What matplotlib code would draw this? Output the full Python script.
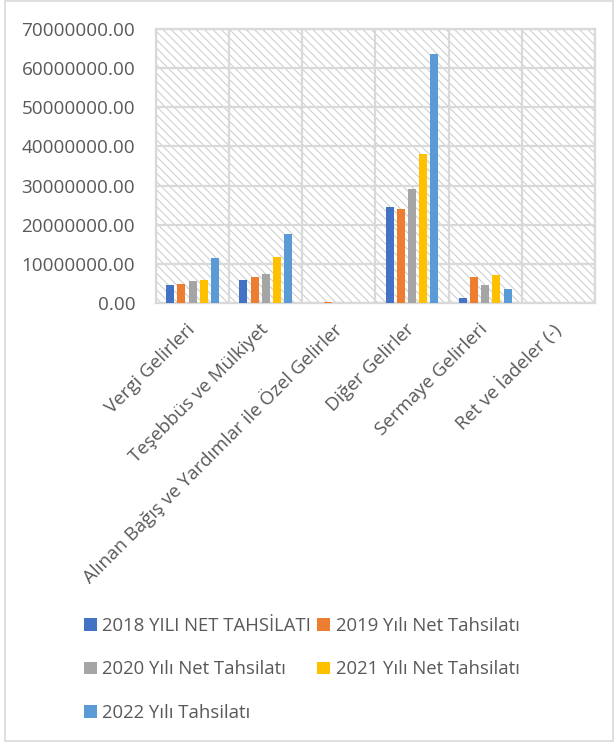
import matplotlib
matplotlib.use("Agg")
import matplotlib.pyplot as plt
import numpy as np
from matplotlib.patches import Rectangle
from matplotlib.ticker import FuncFormatter, FixedLocator

plt.rcParams['font.family'] = ['Open Sans', 'DejaVu Sans']
plt.rcParams['hatch.linewidth'] = 0.7

categories = ["Vergi Gelirleri", "Teşebbüs ve Mülkiyet",
              "Alınan Bağış ve Yardımlar ile Özel Gelirler",
              "Diğer Gelirler", "Sermaye Gelirleri", "Ret ve İadeler (-)"]
series_names = ["2018 YILI NET TAHSİLATI", "2019 Yılı Net Tahsilatı",
                "2020 Yılı Net Tahsilatı", "2021 Yılı Net Tahsilatı",
                "2022 Yılı Tahsilatı"]
v2018 = [4.7e6, 5.8e6, 0.0, 24.4e6, 1.2e6, 0.0]
v2019 = [4.8e6, 6.6e6, 0.2e6, 24.0e6, 6.6e6, 0.0]
v2020 = [5.6e6, 7.4e6, 0.0, 29.2e6, 4.5e6, 0.0]
v2021 = [6.0e6, 11.7e6, 0.0, 38.1e6, 7.2e6, 0.0]
v2022 = [11.5e6, 17.6e6, 0.0, 63.6e6, 3.6e6, 0.0]
series = [v2018, v2019, v2020, v2021, v2022]
colors = ["#4472C4", "#ED7D31", "#A5A5A5", "#FFC000", "#5B9BD5"]
yticks = np.arange(0, 70000001, 10000000)

W, H = 616, 745
fig = plt.figure(figsize=(W/100, H/100), dpi=100)
fig.patch.set_facecolor('white')
ax = fig.add_axes([156/W, 1-303/H, (595-156)/W, (303-29)/H])

txt = '#595959'
grid = '#d9d9d9'

ax.add_patch(Rectangle((0, 0), 1, 1, transform=ax.transAxes, facecolor='white',
                       edgecolor='#cacaca', linewidth=0, hatch='\\\\\\\\', zorder=0))
ax.patch.set_visible(False)

x = np.arange(len(categories))
step = 0.153
bw = 0.109
handles = []
for i, (vals, c, name) in enumerate(zip(series, colors, series_names)):
    h = ax.bar(x + (i - 2) * step, vals, width=bw, color=c, label=name, zorder=3)
    handles.append(h)

ax.set_xlim(-0.5, len(categories) - 0.5)
ax.set_ylim(0, 70000000)
ax.yaxis.set_major_locator(FixedLocator(yticks))
ax.yaxis.set_major_formatter(FuncFormatter(lambda v, p: f"{v:.2f}"))
ax.set_xticks(x)
ax.set_xticklabels(categories, rotation=45, ha='right', va='center',
                   rotation_mode='anchor', color=txt, fontsize=13.5)
ax.xaxis.set_minor_locator(FixedLocator(np.arange(-0.5, len(categories), 1)))
ax.grid(True, axis='y', which='major', color=grid, linewidth=1.6, zorder=1)
ax.grid(True, axis='x', which='minor', color=grid, linewidth=1.6, zorder=1)
ax.tick_params(axis='both', which='both', length=0)
ax.tick_params(axis='y', labelsize=13.6, labelcolor=txt, pad=15)
ax.tick_params(axis='x', pad=17)
for s in ax.spines.values():
    s.set_color(grid)
    s.set_linewidth(1.6)

order = [0, 2, 4, 1, 3]
leg = fig.legend([handles[k] for k in order], [series_names[k] for k in order],
                 loc='upper left', bbox_to_anchor=(67/W, 1-600/H), ncol=2,
                 frameon=False, fontsize=13.3, labelcolor=txt,
                 handlelength=0.7, handleheight=0.7, handletextpad=0.3,
                 columnspacing=0.35, labelspacing=1.4)

fig.add_artist(Rectangle((5/W, 4/H), (613-5)/W, (744-4)/H, transform=fig.transFigure,
                         fill=False, edgecolor='#d9d9d9', linewidth=1.2))

fig.savefig('out.png', dpi=100)
